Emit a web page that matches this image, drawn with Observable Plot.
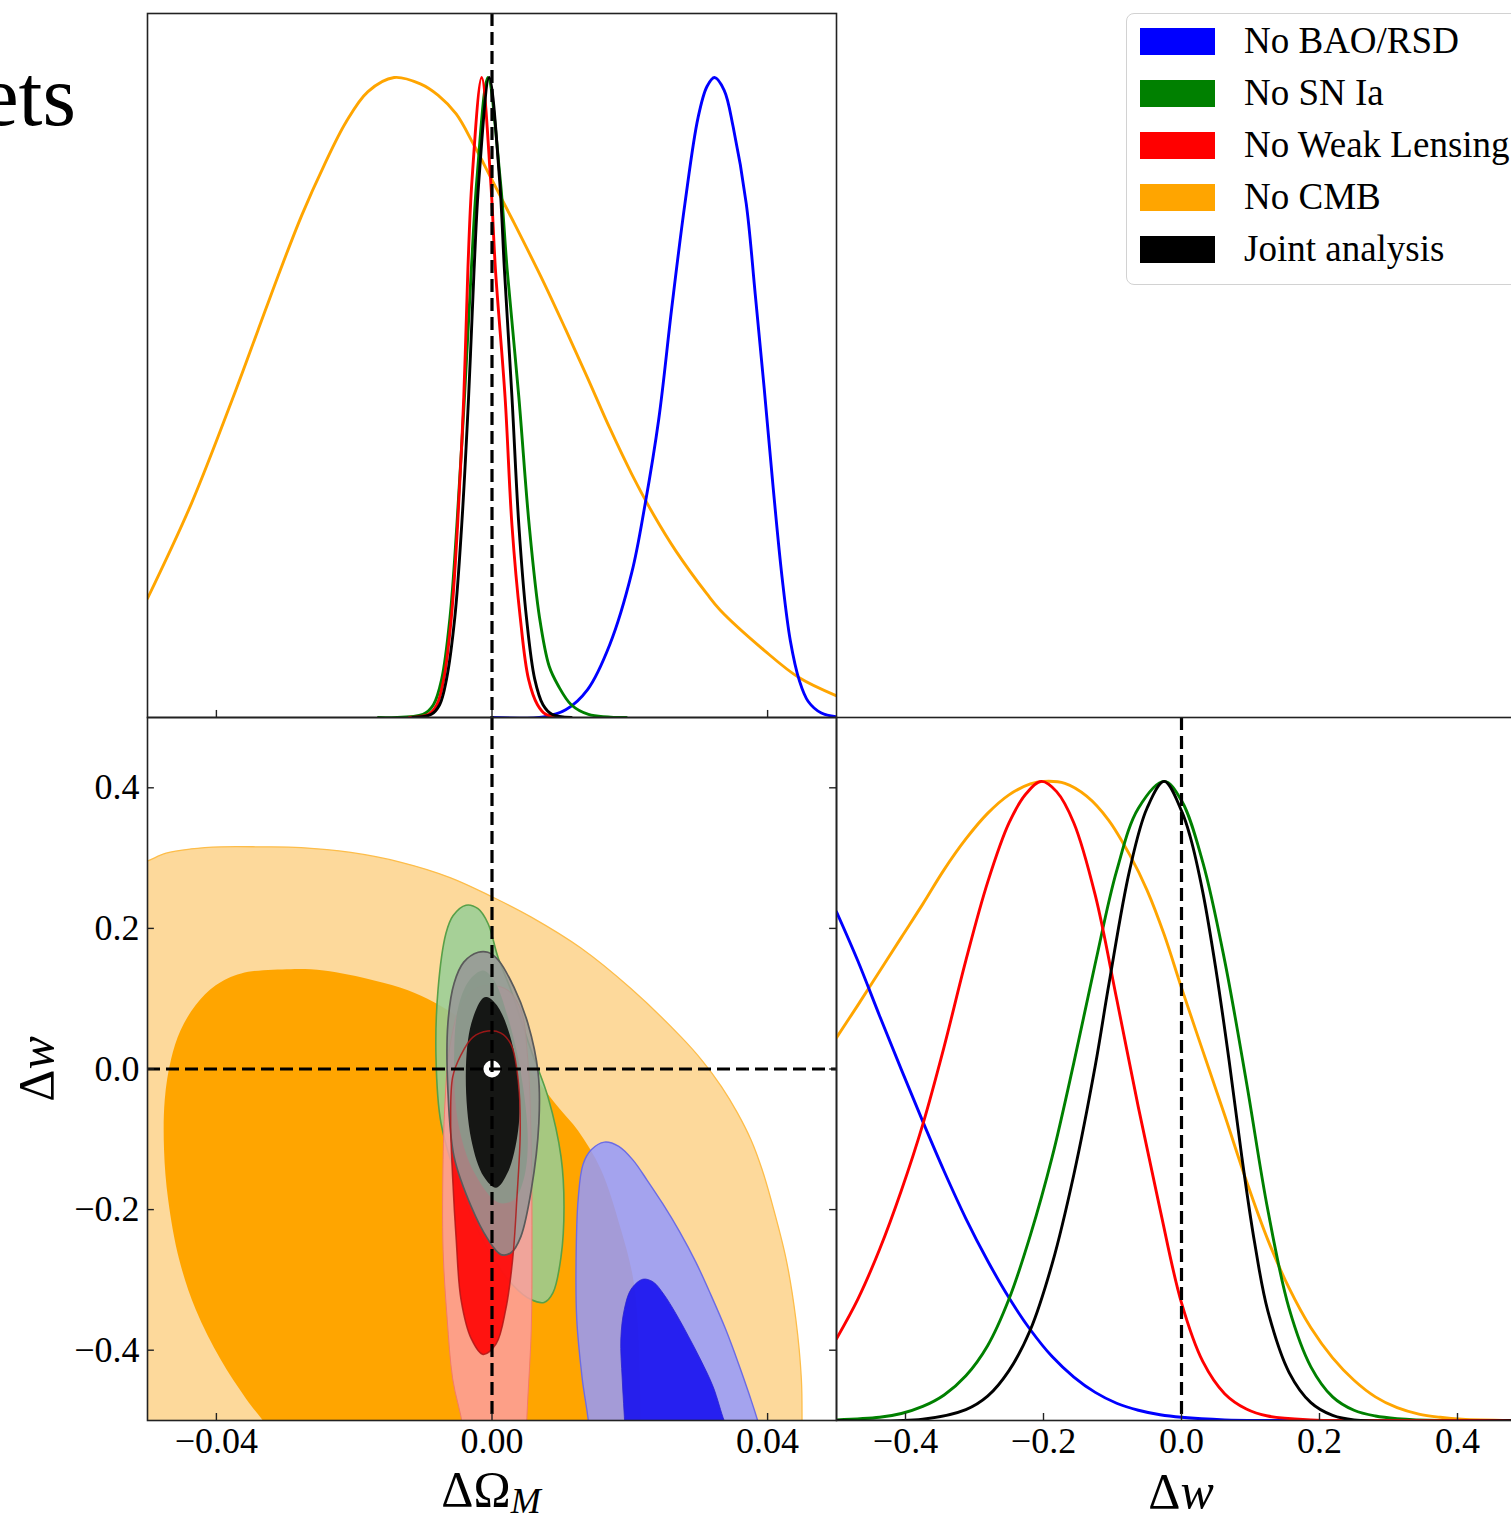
<!DOCTYPE html>
<html><head><meta charset="utf-8">
<script src="https://cdn.jsdelivr.net/npm/d3@7"></script>
<script src="https://cdn.jsdelivr.net/npm/@observablehq/plot@0.6"></script>
<style>
html,body{margin:0;padding:0;background:#fff;}
#page{position:relative;width:1511px;height:1519px;overflow:hidden;background:#fff;font-family:"Liberation Serif","Times New Roman",serif;}
#page svg{position:absolute;}
</style></head><body><div id="page"></div>
<script>
// ---------- labels / ticks ----------
const TITLE_TAIL = "ets";
const OM_TICKS = [-0.04, 0.00, 0.04];
const W_TICKS = [-0.4, -0.2, 0.0, 0.2, 0.4];
const REF_OM = [0];
const REF_W = [0];
const FIDUCIAL = [[0, 0]];
const LEGEND_LABELS = ["No BAO/RSD", "No SN Ia", "No Weak Lensing", "No CMB", "Joint analysis"];
const LEGEND_COLORS = ["#0000ff", "#008000", "#ff0000", "#ffa500", "#000000"];

// ---------- 1D marginal of ΔΩ_M (normalised density) ----------
const omBAO = [[0,0],[0.0075,0.001],[0.0107,0.012],[0.0139,0.044],[0.0171,0.114],[0.0203,0.227],[0.0222,0.332],[0.0242,0.466],[0.0261,0.641],[0.028,0.803],[0.0299,0.937],[0.0312,0.986],[0.0323,1.0],[0.0337,0.98],[0.035,0.923],[0.0369,0.803],[0.0382,0.662],[0.0395,0.515],[0.0408,0.36],[0.0421,0.219],[0.0433,0.12],[0.0446,0.058],[0.0459,0.025],[0.0478,0.007],[0.0502,0.001]];
const omSN = [[-0.0165,0],[-0.01,0.005],[-0.0085,0.02],[-0.0073,0.06],[-0.0061,0.156],[-0.0051,0.3],[-0.004,0.5],[-0.003,0.7],[-0.0022,0.84],[-0.0006,1.0],[0.0012,0.84],[0.0022,0.7],[0.0039,0.5],[0.0054,0.3],[0.0069,0.156],[0.0083,0.08],[0.0096,0.05],[0.0115,0.02],[0.014,0.005],[0.0195,0]];
const omWL = [[-0.012,0],[-0.0092,0.005],[-0.008,0.02],[-0.007,0.06],[-0.0059,0.156],[-0.005,0.3],[-0.0041,0.5],[-0.0035,0.7],[-0.0029,0.84],[-0.0015,1.0],[-0.0002,0.84],[0.0005,0.7],[0.0019,0.5],[0.0029,0.3],[0.0041,0.156],[0.0053,0.06],[0.0066,0.02],[0.0078,0.005],[0.01,0]];
const omCMB = [[-0.05,0.186],[-0.0436,0.335],[-0.0372,0.511],[-0.034,0.604],[-0.0308,0.697],[-0.0276,0.785],[-0.0244,0.862],[-0.0212,0.93],[-0.018,0.978],[-0.0142,1.0],[-0.0104,0.99],[-0.0078,0.972],[-0.0052,0.943],[-0.0027,0.896],[0,0.84],[0.0031,0.775],[0.0075,0.68],[0.0107,0.606],[0.0139,0.53],[0.0171,0.452],[0.0203,0.38],[0.0235,0.316],[0.0267,0.26],[0.0312,0.193],[0.0331,0.168],[0.0395,0.105],[0.0446,0.062],[0.0502,0.033]];
const omJoint = [[-0.0115,0],[-0.0088,0.005],[-0.0076,0.02],[-0.0066,0.06],[-0.0054,0.156],[-0.0044,0.3],[-0.0034,0.5],[-0.0026,0.7],[-0.0019,0.84],[-0.0004,1.0],[0.0011,0.84],[0.0018,0.7],[0.0029,0.5],[0.0039,0.3],[0.005,0.156],[0.0062,0.06],[0.0074,0.02],[0.0087,0.005],[0.0115,0]];

// ---------- 1D marginal of Δw ----------
const wBAO = [[-0.5,0.796],[-0.469,0.719],[-0.4375,0.633],[-0.406,0.549],[-0.375,0.468],[-0.344,0.39],[-0.3125,0.316],[-0.281,0.25],[-0.25,0.192],[-0.219,0.142],[-0.1875,0.1],[-0.156,0.068],[-0.125,0.044],[-0.094,0.027],[-0.0625,0.016],[-0.031,0.009],[0,0.005],[0.0625,0.001],[0.125,0],[0.5,0]];
const wSN = [[-0.5,0.001],[-0.4375,0.005],[-0.406,0.011],[-0.375,0.022],[-0.344,0.04],[-0.3125,0.07],[-0.281,0.117],[-0.25,0.19],[-0.219,0.29],[-0.1875,0.412],[-0.156,0.56],[-0.125,0.715],[-0.094,0.86],[-0.0625,0.958],[-0.025,1.0],[0,0.97],[0.031,0.873],[0.0625,0.72],[0.094,0.53],[0.125,0.33],[0.156,0.175],[0.1875,0.084],[0.219,0.037],[0.25,0.016],[0.281,0.007],[0.3125,0.003],[0.375,0],[0.5,0]];
const wWL = [[-0.5,0.128],[-0.469,0.19],[-0.4375,0.268],[-0.406,0.36],[-0.375,0.463],[-0.344,0.585],[-0.3125,0.72],[-0.281,0.842],[-0.25,0.935],[-0.225,0.981],[-0.203,1.0],[-0.181,0.984],[-0.156,0.935],[-0.125,0.822],[-0.094,0.66],[-0.0625,0.49],[-0.031,0.33],[0,0.184],[0.031,0.092],[0.0625,0.042],[0.094,0.018],[0.125,0.007],[0.1875,0.001],[0.25,0],[0.5,0]];
const wCMB = [[-0.5,0.599],[-0.469,0.65],[-0.4375,0.703],[-0.406,0.756],[-0.375,0.808],[-0.344,0.862],[-0.3125,0.91],[-0.281,0.95],[-0.25,0.979],[-0.219,0.996],[-0.2,1.0],[-0.169,0.997],[-0.1375,0.977],[-0.106,0.94],[-0.075,0.885],[-0.05,0.83],[-0.025,0.76],[0,0.677],[0.031,0.578],[0.0625,0.478],[0.094,0.375],[0.125,0.283],[0.156,0.207],[0.1875,0.145],[0.219,0.098],[0.25,0.063],[0.281,0.037],[0.3125,0.02],[0.344,0.01],[0.375,0.005],[0.406,0.002],[0.48,0],[0.5,0]];
const wJoint = [[-0.5,0],[-0.375,0.002],[-0.3125,0.017],[-0.281,0.038],[-0.25,0.078],[-0.219,0.142],[-0.1875,0.245],[-0.156,0.385],[-0.125,0.555],[-0.105,0.684],[-0.075,0.862],[-0.05,0.958],[-0.025,1.0],[0,0.954],[0.0125,0.914],[0.031,0.826],[0.05,0.705],[0.069,0.563],[0.0875,0.412],[0.106,0.278],[0.125,0.172],[0.156,0.075],[0.1875,0.028],[0.219,0.008],[0.25,0.001],[0.5,0]];

// ---------- 2D contours (ΔΩ_M, Δw): 2 = 95% outer, 1 = 68% inner ----------
const cCMB2 = [[-0.054,-0.64],[-0.054,0.28],[-0.04995,0.296],[-0.0473,0.307],[-0.0437,0.313],[-0.0393,0.316],[-0.0335,0.316],[-0.0277,0.315],[-0.0205,0.308],[-0.0132,0.294],[-0.006,0.272],[0,0.245],[0.0057,0.216],[0.0129,0.172],[0.0202,0.114],[0.0274,0.046],[0.0305,0.012],[0.0333,-0.025],[0.0356,-0.062],[0.0376,-0.101],[0.0392,-0.143],[0.0405,-0.186],[0.0427,-0.271],[0.0441,-0.356],[0.0449,-0.441],[0.045,-0.512],[0.045,-0.64]];
const cCMB1 = [[-0.0277,-0.597],[-0.0324,-0.512],[-0.0357,-0.469],[-0.0394,-0.413],[-0.043,-0.342],[-0.0454,-0.271],[-0.047,-0.186],[-0.0476,-0.115],[-0.0475,-0.044],[-0.0466,0.013],[-0.0452,0.055],[-0.043,0.091],[-0.0401,0.119],[-0.0364,0.136],[-0.0292,0.142],[-0.0244,0.14],[-0.0171,0.126],[-0.0122,0.112],[-0.0084,0.095],[-0.003,0.062],[0.0028,0.027],[0.0071,-0.023],[0.0096,-0.054],[0.0125,-0.088],[0.0158,-0.143],[0.0187,-0.228],[0.0205,-0.299],[0.0212,-0.37],[0.0216,-0.512],[0.0218,-0.597]];
const cBAO2 = [[0.0142,-0.597],[0.0141,-0.512],[0.0131,-0.441],[0.0123,-0.356],[0.0122,-0.275],[0.0125,-0.186],[0.0132,-0.136],[0.0144,-0.115],[0.0163,-0.104],[0.0184,-0.11],[0.0205,-0.13],[0.0225,-0.158],[0.0248,-0.192],[0.0272,-0.231],[0.0296,-0.275],[0.0318,-0.322],[0.0339,-0.37],[0.0357,-0.417],[0.0373,-0.462],[0.0389,-0.512],[0.0408,-0.597]];
const cBAO1 = [[0.0196,-0.597],[0.0193,-0.512],[0.0189,-0.441],[0.0187,-0.384],[0.0192,-0.342],[0.0202,-0.313],[0.0219,-0.299],[0.0234,-0.303],[0.0249,-0.32],[0.0267,-0.348],[0.0285,-0.38],[0.0303,-0.414],[0.0321,-0.452],[0.0337,-0.5],[0.0343,-0.512],[0.0362,-0.597]];
const cSN2 = [[-0.00378,0.233],[-0.00203,0.228],[-0.00058,0.207],[0.00087,0.159],[0.00276,0.112],[0.00566,0.027],[0.00813,-0.04],[0.01002,-0.125],[0.01045,-0.196],[0.01002,-0.267],[0.00886,-0.318],[0.00755,-0.332],[0.00566,-0.328],[0.00319,-0.309],[-0.00058,-0.257],[-0.0045,-0.172],[-0.0074,-0.077],[-0.00813,0.017],[-0.00784,0.112],[-0.00668,0.193],[-0.00566,0.218]];
const cSN1 = [[-0.0013,0.14],[0.0003,0.126],[0.0023,0.074],[0.0042,-0.006],[0.0052,-0.101],[0.0046,-0.157],[0.0032,-0.186],[0.0009,-0.19],[-0.0026,-0.147],[-0.0049,-0.077],[-0.0055,0.017],[-0.0049,0.088],[-0.0033,0.126]];
const cWL2 = [[-0.0001,0.119],[0.0023,0.112],[0.0042,0.084],[0.0052,0.013],[0.0057,-0.115],[0.0058,-0.257],[0.0057,-0.37],[0.005,-0.512],[0.0049,-0.597],[-0.0039,-0.597],[-0.0042,-0.512],[-0.0057,-0.441],[-0.0065,-0.356],[-0.0071,-0.257],[-0.0071,-0.129],[-0.0068,-0.044],[-0.0062,0.027],[-0.0045,0.091],[-0.0023,0.115]];
const cWL1 = [[-0.0006,0.054],[0.0013,0.051],[0.0028,0.034],[0.0038,-0.016],[0.0041,-0.086],[0.0036,-0.186],[0.003,-0.271],[0.002,-0.342],[0.0006,-0.391],[-0.0013,-0.406],[-0.003,-0.384],[-0.0045,-0.328],[-0.0052,-0.242],[-0.0057,-0.157],[-0.006,-0.077],[-0.0057,-0.011],[-0.0045,0.02],[-0.0028,0.045]];
const cJoint2 = [[-0.002,0.166],[-0.0006,0.166],[0.0009,0.155],[0.0032,0.116],[0.0052,0.065],[0.0067,-0.006],[0.0068,-0.077],[0.0057,-0.172],[0.0042,-0.238],[0.0028,-0.261],[0.0013,-0.264],[-0.0006,-0.242],[-0.003,-0.196],[-0.0055,-0.125],[-0.0064,-0.03],[-0.0064,0.065],[-0.0055,0.122],[-0.0041,0.152]];
const cJoint1 = [[-0.0013,0.101],[-0.0006,0.102],[0.0009,0.088],[0.0028,0.041],[0.0039,-0.03],[0.0038,-0.087],[0.0023,-0.147],[0.0006,-0.169],[-0.0012,-0.153],[-0.003,-0.101],[-0.0038,-0.006],[-0.003,0.065]];

// ---------- helpers ----------
const X = d => d[0], Y = d => d[1];
const FONT = "'Liberation Serif','Times New Roman',serif";
const fmt2 = d => (d < 0 ? "\u2212" : "") + Math.abs(d).toFixed(2);
const fmt1 = d => (d < 0 ? "\u2212" : "") + Math.abs(d).toFixed(1);
const svgStyle = {background: "transparent", overflow: "visible", fontFamily: FONT, fontSize: "36px", color: "#000"};
const curve1 = (data, color) => Plot.line(data, {x: X, y: Y, stroke: color, strokeWidth: 2.9, curve: "catmull-rom", clip: true});
const blob = (data, fill, fo, stroke, sw) => Plot.line(data, {x: X, y: Y, fill, fillOpacity: fo, stroke: stroke || "none", strokeWidth: sw || 1, curve: "catmull-rom-closed", clip: true});
const dashed = {stroke: "#000", strokeWidth: 3.2, strokeDasharray: "13,6"};
const tickStyle = {stroke: "#222", strokeWidth: 1.4};
const FRAME = Plot.frame({stroke: "#222", strokeWidth: 1.6});

const page = document.getElementById("page");
function place(svg, left, top) {
  svg.style.left = left + "px";
  svg.style.top = top + "px";
  page.appendChild(svg);
}

// ---------- top-left: ΔΩ_M marginal ----------
const pTop = Plot.plot({
  width: 846, height: 727,
  marginLeft: 147, marginRight: 10, marginTop: 13, marginBottom: 10,
  style: svgStyle,
  x: {domain: [-0.05, 0.05], axis: null},
  y: {domain: [0, 1.1], axis: null},
  marks: [
    curve1(omCMB, LEGEND_COLORS[3]),
    curve1(omBAO, LEGEND_COLORS[0]),
    curve1(omSN, LEGEND_COLORS[1]),
    curve1(omWL, LEGEND_COLORS[2]),
    curve1(omJoint, LEGEND_COLORS[4]),
    Plot.ruleX(REF_OM, dashed),
    Plot.ruleX(OM_TICKS, {y1: 0, y2: 0.011, ...tickStyle}),
    FRAME
  ]
});
place(pTop, 0, 0);

// ---------- bottom-left: 2D contours ----------
const p2d = Plot.plot({
  width: 846, height: 812,
  marginLeft: 147, marginRight: 10, marginTop: 10, marginBottom: 99,
  style: svgStyle,
  x: {domain: [-0.05, 0.05]},
  y: {domain: [-0.5, 0.5]},
  marks: [
    blob(cCMB2, "#fdd99b", 1, "#fdbd4a", 1.3),
    blob(cCMB1, "#ffa500", 1),
    blob(cBAO2, "rgb(148,153,253)", 0.85, "#6c6ce4", 1.4),
    blob(cBAO1, "rgb(16,9,240)", 0.85, "#2a22d0", 0.8),
    blob(cSN2, "rgb(150,206,150)", 0.85, "#58a048", 1.6),
    blob(cWL2, "rgb(253,157,159)", 0.85, "#f47a68", 1.0),
    blob(cWL1, "rgb(255,0,0)", 0.88),
    blob(cSN1, "rgb(57,163,70)", 0.85),
    blob(cJoint2, "rgb(150,150,150)", 0.85, "#5a5a5a", 1.7),
    blob(cJoint1, "#000", 0.85),
    Plot.line(cWL1, {x: X, y: Y, stroke: "#b01818", strokeOpacity: 0.85, strokeWidth: 1.5, curve: "catmull-rom-closed", clip: true}),
    Plot.dot(FIDUCIAL, {x: X, y: Y, r: 8.5, fill: "#fff", stroke: "none"}),
    Plot.ruleX(REF_OM, dashed),
    Plot.ruleY(REF_W, dashed),
    Plot.ruleX(OM_TICKS, {y1: -0.5, y2: -0.49, ...tickStyle}),
    Plot.ruleY(W_TICKS, {x1: -0.05, x2: -0.049, ...tickStyle}),
    Plot.ruleY(W_TICKS, {x1: 0.049, x2: 0.05, ...tickStyle}),
    Plot.axisX(OM_TICKS, {tickSize: 0, tickPadding: 7, tickFormat: fmt2, label: null, fontSize: 36, fontFamily: FONT}),
    Plot.axisY(W_TICKS, {tickSize: 0, tickPadding: 8, tickFormat: fmt1, label: null, fontSize: 36, fontFamily: FONT}),
    FRAME
  ]
});
place(p2d, 0, 707);

// ---------- bottom-right: Δw marginal ----------
const pW = Plot.plot({
  width: 710, height: 812,
  marginLeft: 10, marginRight: 10, marginTop: 10, marginBottom: 99,
  style: svgStyle,
  x: {domain: [-0.5, 0.5]},
  y: {domain: [0, 1.1], axis: null},
  marks: [
    curve1(wCMB, LEGEND_COLORS[3]),
    curve1(wBAO, LEGEND_COLORS[0]),
    curve1(wSN, LEGEND_COLORS[1]),
    curve1(wWL, LEGEND_COLORS[2]),
    curve1(wJoint, LEGEND_COLORS[4]),
    Plot.ruleX(REF_W, dashed),
    Plot.ruleX(W_TICKS, {y1: 0, y2: 0.011, ...tickStyle}),
    Plot.axisX(W_TICKS, {tickSize: 0, tickPadding: 7, tickFormat: fmt1, label: null, fontSize: 36, fontFamily: FONT}),
    FRAME
  ]
});
place(pW, 826, 707);

// ---------- text overlay: title fragment and axis labels ----------
const ov = d3.select(page).append("svg")
  .attr("width", 1511).attr("height", 1519)
  .style("left", "0px").style("top", "0px").style("pointer-events", "none")
  .style("font-family", FONT);
ov.append("text").attr("x", 76).attr("y", 125).attr("text-anchor", "end").attr("font-size", 86).text(TITLE_TAIL);
const lx = ov.append("text").attr("x", 491).attr("y", 1506).attr("text-anchor", "middle").attr("font-size", 50);
lx.append("tspan").text("\u0394\u03A9");
lx.append("tspan").attr("font-style", "italic").attr("font-size", 36).attr("dy", 7).text("M");
const lw = ov.append("text").attr("x", 1181).attr("y", 1508).attr("text-anchor", "middle").attr("font-size", 50);
lw.append("tspan").text("\u0394");
lw.append("tspan").attr("font-style", "italic").text("w");
const ly = ov.append("text").attr("transform", "translate(53,1069) rotate(-90)").attr("text-anchor", "middle").attr("font-size", 50);
ly.append("tspan").text("\u0394");
ly.append("tspan").attr("font-style", "italic").text("w");

// ---------- legend ----------
const lg = d3.select(page).append("div")
  .style("position", "absolute").style("left", "1126px").style("top", "13px")
  .style("width", "430px").style("height", "272px").style("box-sizing", "border-box")
  .style("border", "1.5px solid #d2d2d2").style("border-radius", "8px").style("background", "#fff");
LEGEND_LABELS.forEach((lab, i) => {
  const row = lg.append("div").style("position", "absolute").style("left", "13px").style("top", (13 + 52 * i) + "px")
    .style("height", "28px").style("display", "flex").style("align-items", "center").style("white-space", "nowrap");
  row.append("div").style("width", "75px").style("height", "27px").style("background", LEGEND_COLORS[i]);
  row.append("div").style("margin-left", "29px").style("font-size", "37px").style("line-height", "28px")
    .style("font-family", FONT).style("color", "#000").text(lab);
});
</script></body></html>
